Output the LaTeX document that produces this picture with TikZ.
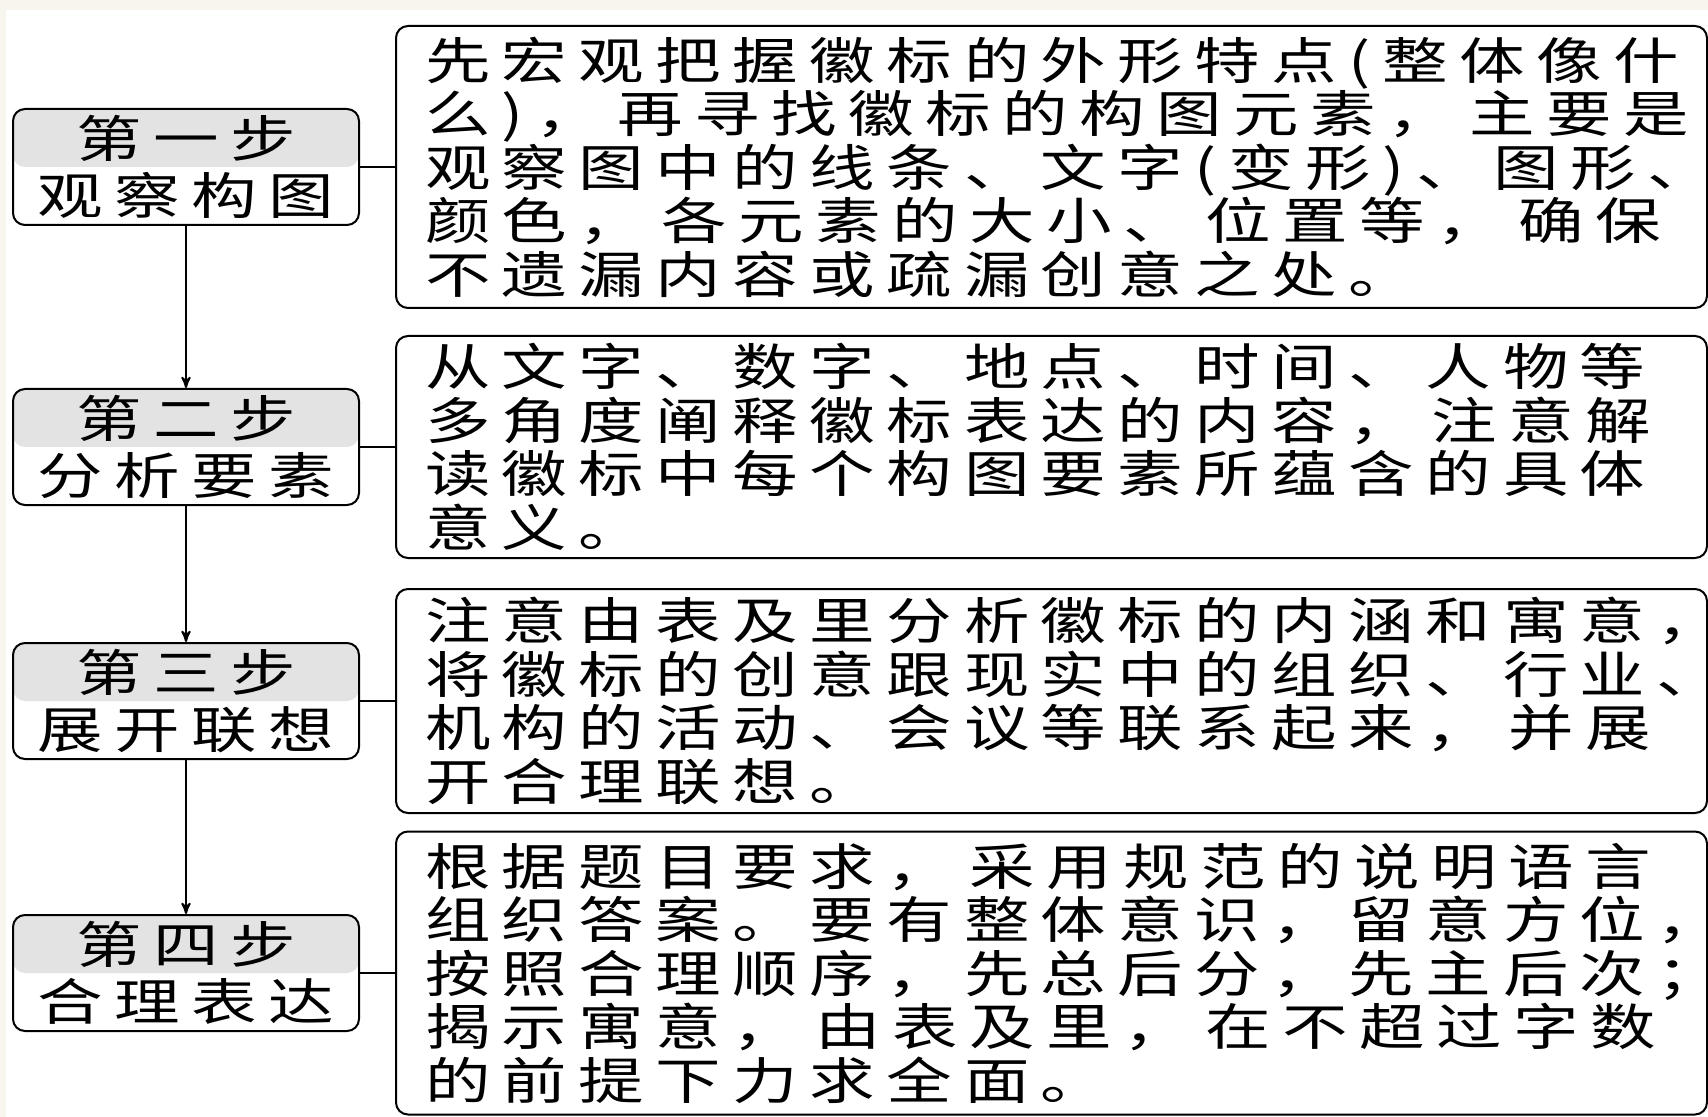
\documentclass[tikz,border=0pt]{standalone}
\usepackage{fontspec}
\newfontfamily\cjk[FakeStretch=1.31,LetterSpace=23]{Noto Sans CJK SC}
\usetikzlibrary{arrows,positioning}
\definecolor{pagecream}{HTML}{F8F4EE}
\definecolor{headgray}{HTML}{E3E3E3}

\begin{document}
\begin{tikzpicture}[x=0.5pt,y=-0.5pt,>=stealth',
    stepbox/.style={draw,line width=1pt,rounded corners=6pt,minimum width=173pt,minimum height=58pt,
      inner sep=0pt,align=center,font=\cjk\fontsize{25pt}{28.5pt}\selectfont,
      path picture={\fill[headgray] (path picture bounding box.north west) rectangle (path picture bounding box.east);}},
    stepnote/.style={draw,line width=1pt,rounded corners=6pt,text width=626.5pt,inner xsep=14.5pt,
      align=left,font=\cjk\fontsize{25pt}{26.75pt}\selectfont}]

    \useasboundingbox (0,0) rectangle (1708,1117);
    \fill[pagecream] (0,0) rectangle (1708,1117);
    \fill[white] (6,10) rectangle (1708,1117);

    \node[stepbox] (s1) at (186,167) {第一步\\观察构图};
    \node[stepbox,below=81pt of s1] (s2) {第二步\\分析要素};
    \node[stepbox,below=68pt of s2] (s3) {第三步\\展开联想};
    \node[stepbox,below=77pt of s3] (s4) {第四步\\合理表达};

    \node[stepnote,minimum height=141pt,right=17.5pt of s1] (n1) {先宏观把握徽标的外形特点(整体像什\\么)，~再寻找徽标的构图元素，~主要是\\观察图中的线条、文字(变形)、图形、\\颜色，~各元素的大小、~位置等，~确保\\不遗漏内容或疏漏创意之处。};
    \node[stepnote,minimum height=111pt,right=17.5pt of s2] (n2) {从文字、数字、地点、时间、人物等\\多角度阐释徽标表达的内容，~注意解\\读徽标中每个构图要素所蕴含的具体\\意义。};
    \node[stepnote,minimum height=112pt,right=17.5pt of s3] (n3) {注意由表及里分析徽标的内涵和寓意，\\将徽标的创意跟现实中的组织、行业、\\机构的活动、会议等联系起来，~并展\\开合理联想。};
    \node[stepnote,minimum height=141.5pt,right=17.5pt of s4] (n4) {根据题目要求，~采用规范的说明语言\\组织答案。要有整体意识，留意方位，\\按照合理顺序，先总后分，先主后次；\\揭示寓意，~由表及里，~在不超过字数\\的前提下力求全面。};

    \path[draw,line width=0.75pt] (s1) -- (n1)
                                  (s2) -- (n2)
                                  (s3) -- (n3)
                                  (s4) -- (n4);
    \path[->,line width=1pt] (s1) edge (s2)
                             (s2) edge (s3)
                             (s3) edge (s4);
\end{tikzpicture}
\end{document}
